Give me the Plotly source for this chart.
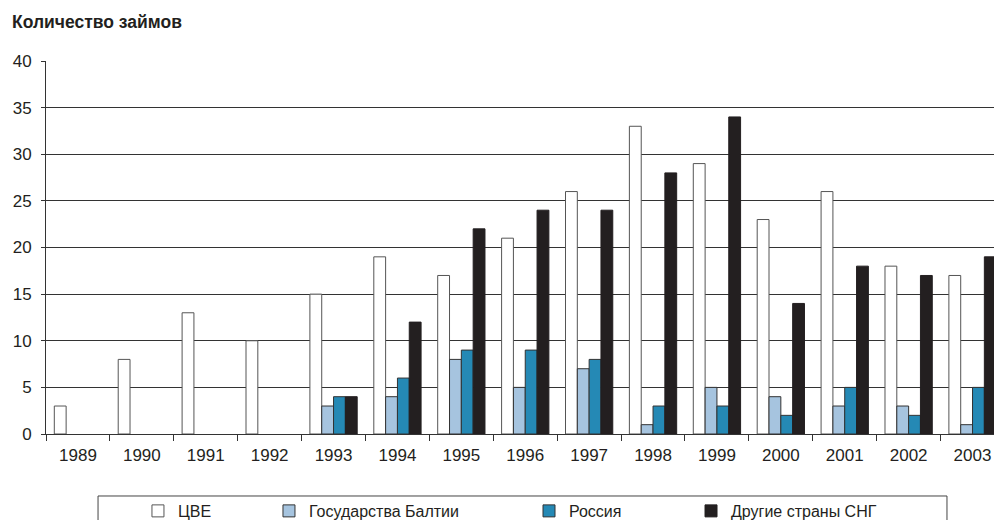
import plotly.graph_objects as go

years = ["1989", "1990", "1991", "1992", "1993", "1994", "1995", "1996",
         "1997", "1998", "1999", "2000", "2001", "2002", "2003"]
cve = [3, 8, 13, 10, 15, 19, 17, 21, 26, 33, 29, 23, 26, 18, 17]
baltic = [None, None, None, None, 3, 4, 8, 5, 7, 1, 5, 4, 3, 3, 1]
russia = [None, None, None, None, 4, 6, 9, 9, 8, 3, 3, 2, 5, 2, 5]
cis = [None, None, None, None, 4, 12, 22, 24, 24, 28, 34, 14, 18, 17, 19]

series_names = ["ЦВЕ", "Государства Балтии", "Россия", "Другие страны СНГ"]
series_values = [cve, baltic, russia, cis]
colors = ["#ffffff", "#a6c4df", "#2589b5", "#231f20"]
line_colors = ["#555555", "#333333", "#333333", "#231f20"]
legend_ids = ["legend", "legend2", "legend3", "legend4"]
legend_x = [0.0970, 0.2352, 0.5095, 0.6804]

FONT = "Liberation Sans, Arial, sans-serif"

fig = go.Figure()
for name, vals, c, lc, lg in zip(series_names, series_values, colors, line_colors, legend_ids):
    fig.add_trace(go.Bar(
        x=years, y=vals, name=name,
        marker=dict(color=c, line=dict(color=lc, width=1)),
        legend=lg,
    ))

layout_legends = {}
for lg, lx in zip(legend_ids, legend_x):
    layout_legends[lg] = dict(
        x=lx, y=-0.2064, xanchor="left", yanchor="middle",
        orientation="h", bgcolor="rgba(0,0,0,0)", borderwidth=0,
        font=dict(family=FONT, size=16, color="#231f20"),
    )

fig.update_layout(
    width=986, height=512,
    margin=dict(l=38, r=0, t=53, b=86, autoexpand=False),
    paper_bgcolor="white", plot_bgcolor="white",
    barmode="group", bargap=0.26, bargroupgap=0,
    font=dict(family=FONT, size=17, color="#231f20"),
    showlegend=True,
    **layout_legends,
    xaxis=dict(
        type="category", range=[-0.5, 14.336], automargin=False,
        showline=True, linecolor="#333333", linewidth=1,
        ticks="outside", tickson="boundaries", ticklen=6,
        tickcolor="#333333", tickwidth=1,
        showgrid=False, tickfont=dict(size=17),
        ticklabelstandoff=6,
    ),
    yaxis=dict(
        range=[0, 40], dtick=5, automargin=False,
        showline=True, linecolor="#333333", linewidth=1,
        ticks="outside", ticklen=4, tickcolor="#333333",
        showgrid=True, gridcolor="#333333", gridwidth=1,
        zeroline=False, tickfont=dict(size=17),
        ticklabelstandoff=6,
    ),
    annotations=[dict(
        text="<b>Количество займов</b>", xref="paper", yref="paper",
        x=-0.038, y=1.105, xanchor="left", yanchor="middle",
        showarrow=False, font=dict(family=FONT, size=17.5, color="#231f20"),
    )],
    shapes=[dict(
        type="rect", xref="paper", yref="paper",
        x0=0.0549, x1=0.9504, y0=-0.1662, y1=-0.5,
        line=dict(color="#444444", width=1), fillcolor="rgba(0,0,0,0)",
    )],
)

fig.write_html("out.html")
